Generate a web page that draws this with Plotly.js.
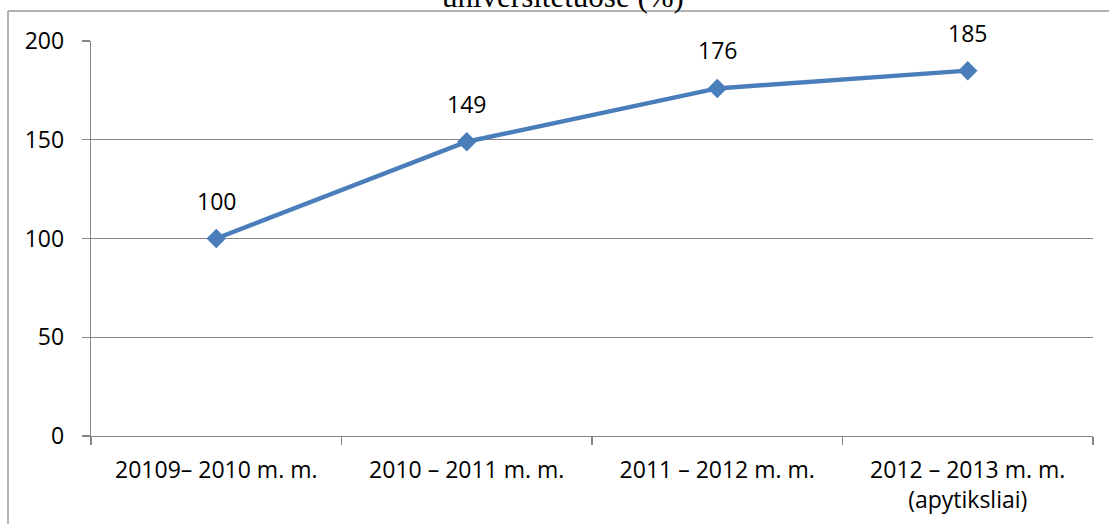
<!DOCTYPE html>
<html>
<head>
<meta charset="utf-8">
<script src="https://cdn.plot.ly/plotly-3.0.1.min.js"></script>
<style>html,body{margin:0;padding:0;background:#fff;}#chart{width:1109px;height:524px;}</style>
</head>
<body>
<div id="chart"></div>
<script>
var categories = ["20109– 2010 m. m.", "2010 – 2011 m. m.", "2011 – 2012 m. m.", "2012 – 2013 m. m.<br>(apytiksliai)"];
var values = [100, 149, 176, 185];
var yTicks = [0, 50, 100, 150, 200];
var titleText = "universitetuose (%)";

var font = "'Open Sans', sans-serif";
var gray = "#868686";

var trace = {
  x: categories,
  y: values,
  type: "scatter",
  mode: "lines+markers",
  line: {color: "#4A7EBB", width: 4.5},
  marker: {symbol: "diamond", size: 15, color: "#4A7EBB"},
  hoverinfo: "none",
  cliponaxis: false
};

var annotations = values.map(function (v, i) {
  return {x: i, y: v, xref: "x", yref: "y", text: String(v), showarrow: false,
          yanchor: "middle", yshift: 38, font: {family: font, size: 23, color: "#000"}};
});
annotations.push({
  x: 0.471, y: 1, xref: "paper", yref: "paper", yanchor: "bottom", yshift: 25,
  text: titleText, showarrow: false,
  font: {family: "'Liberation Serif', 'Times New Roman', serif", size: 31, color: "#000"}
});

var L = 91, R = 1093, T = 41, B = 436;
function px(x) { return (x - L) / (R - L); }
function py(y) { return (B - y) / (B - T); }

var layout = {
  width: 1109, height: 524,
  margin: {l: L, r: 1109 - R, t: T, b: 524 - B},
  paper_bgcolor: "#fff", plot_bgcolor: "#fff",
  showlegend: false,
  xaxis: {
    type: "category",
    range: [-0.5, 3.5],
    tickson: "boundaries",
    ticks: "outside", ticklen: 8, tickcolor: gray, tickwidth: 1.3,
    ticklabelstandoff: 13,
    showgrid: false, zeroline: false,
    showline: true, linecolor: gray, linewidth: 1.3,
    tickfont: {family: font, size: 23, color: "#000"},
    fixedrange: true
  },
  yaxis: {
    range: [0, 200],
    tickvals: yTicks,
    ticks: "outside", ticklen: 8, tickcolor: gray, tickwidth: 1.3,
    ticklabelstandoff: 13,
    showgrid: true, gridcolor: gray, gridwidth: 1.3,
    zeroline: false,
    showline: true, linecolor: gray, linewidth: 1.3,
    tickfont: {family: font, size: 23, color: "#000"},
    fixedrange: true
  },
  annotations: annotations,
  shapes: [
    {type: "line", xref: "paper", yref: "paper", x0: px(8), x1: px(1120), y0: py(11), y1: py(11), line: {color: "#999", width: 1.5}},
    {type: "line", xref: "paper", yref: "paper", x0: px(8), x1: px(8), y0: py(11), y1: py(540), line: {color: "#999", width: 1.5}}
  ]
};

Plotly.newPlot("chart", [trace], layout, {displayModeBar: false, staticPlot: true});
</script>
</body>
</html>
